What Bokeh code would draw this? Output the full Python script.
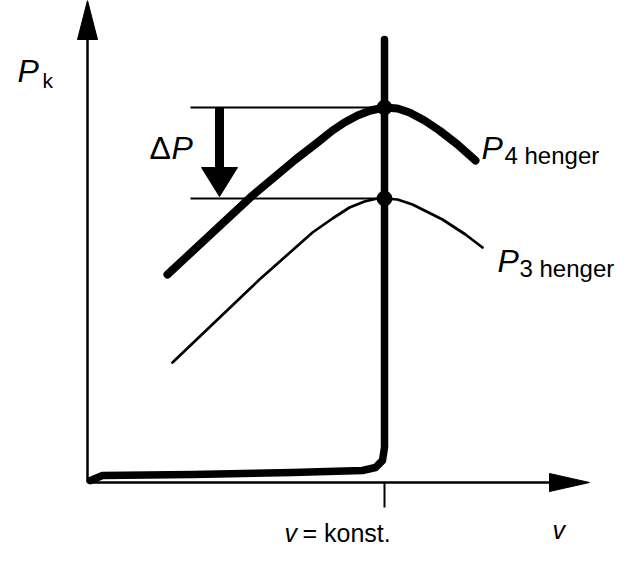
from bokeh.plotting import figure
from bokeh.models import Range1d
from bokeh.core.properties import value
from bokeh.embed import file_html
from bokeh.resources import INLINE

# ---- data (chart units: v to the right, P upward, origin at the axes' corner) ----
# P for 4 cylinders (thick curve)
v4 = [80, 165, 208, 230, 245, 257, 270, 283, 297, 310, 322, 337, 352, 370, 388]
p4 = [208, 287, 323, 340, 352, 360, 367, 372, 375, 374, 370, 362, 352, 338, 322]
# P for 3 cylinders (thin curve)
v3 = [85, 172, 225, 245, 262, 277, 290, 297, 310, 325, 355, 378, 395]
p3 = [120, 203, 250, 264, 275, 281, 284, 284, 283, 278, 263, 248, 235]
# v = konst. line (thick, from the bottom up)
vk_v = [3, 15, 105, 205, 275, 288, 295, 297, 297]
vk_p = [2, 7, 8, 10, 12, 15, 22, 35, 443]
v_konst = 297
p4_max = 375
p3_max = 284
# axes
x_axis_end = 502
y_axis_end = 482
ref_line_start = 103
delta_arrow_v = 132
# labels
main_texts = ["P", "P", "P"]
main_v = [-70, 394, 410]
main_p = [412, 335, 222]
sub_texts = ["k", "4 henger", "3 henger"]
sub_v = [-45, 417, 432]
sub_p = [402, 327, 214]
bottom_texts = ["v", "= konst.", "v"]
bottom_v = [197, 215, 465]
bottom_p = [-50, -50, -47]

FONT = value("Liberation Sans")

p = figure(width=618, height=545, x_range=Range1d(-87, 531), y_range=Range1d(-63, 482),
           output_backend="svg", toolbar_location=None, min_border=0, title=None,
           x_axis_location=None, y_axis_location=None)
p.grid.visible = False
p.outline_line_color = None
p.background_fill_color = "white"
p.border_fill_color = "white"

# axes lines
p.line([0, x_axis_end - 30], [0, 0], line_color="black", line_width=2.5)
p.line([0, 0], [0, y_axis_end - 30], line_color="black", line_width=2.5)
# arrowheads
p.patch([x_axis_end - 40, x_axis_end, x_axis_end - 40],
        [-9, 0, 9], fill_color="black", line_color="black", line_width=1)
p.patch([-10, 0, 10], [y_axis_end - 39, y_axis_end, y_axis_end - 39],
        fill_color="black", line_color="black", line_width=1)
# tick at v = konst.
p.line([v_konst, v_konst], [0, -25], line_color="black", line_width=2)

# reference lines
p.line([ref_line_start, v_konst], [p4_max, p4_max], line_color="black", line_width=2)
p.line([ref_line_start, v_konst], [p3_max, p3_max], line_color="black", line_width=2)

# curves
p.line(v3, p3, line_color="black", line_width=2.7, line_join="round", line_cap="round")
p.line(v4, p4, line_color="black", line_width=8, line_join="round", line_cap="round")
p.line(vk_v, vk_p, line_color="black", line_width=7.5, line_join="round", line_cap="round")

# intersection dots
p.scatter([v_konst, v_konst], [p4_max, p3_max], size=15, fill_color="black", line_color="black")

# delta P arrow
p.line([delta_arrow_v, delta_arrow_v], [p4_max, p3_max + 30], line_color="black", line_width=9)
p.patch([delta_arrow_v - 18, delta_arrow_v + 18, delta_arrow_v],
        [p3_max + 31, p3_max + 31, p3_max + 2], fill_color="black", line_color="black")

# labels
p.text(main_v, main_p, text=main_texts, text_font=FONT, text_font_size=value("32px"),
       text_font_style="italic", text_baseline="alphabetic", text_color="black")
p.text(sub_v[:1], sub_p[:1], text=sub_texts[:1], text_font=FONT, text_font_size=value("21px"),
       text_baseline="alphabetic", text_color="black")
p.text(sub_v[1:], sub_p[1:], text=sub_texts[1:], text_font=FONT, text_font_size=value("24px"),
       text_baseline="alphabetic", text_color="black")
p.text([bottom_v[0], bottom_v[2]], [bottom_p[0], bottom_p[2]], text=[bottom_texts[0], bottom_texts[2]],
       text_font=FONT, text_font_size=value("25px"), text_font_style="italic",
       text_baseline="alphabetic", text_color="black")
p.text([bottom_v[1]], [bottom_p[1]], text=[bottom_texts[1]], text_font=FONT,
       text_font_size=value("25px"), text_baseline="alphabetic", text_color="black")
# Delta P
p.text([62], [335], text=["Δ"], text_font=FONT, text_font_size=value("32px"),
       text_baseline="alphabetic", text_color="black")
p.text([84], [335], text=["P"], text_font=FONT, text_font_size=value("32px"), text_font_style="italic",
       text_baseline="alphabetic", text_color="black")

open("out.html", "w").write(file_html(p, INLINE))
